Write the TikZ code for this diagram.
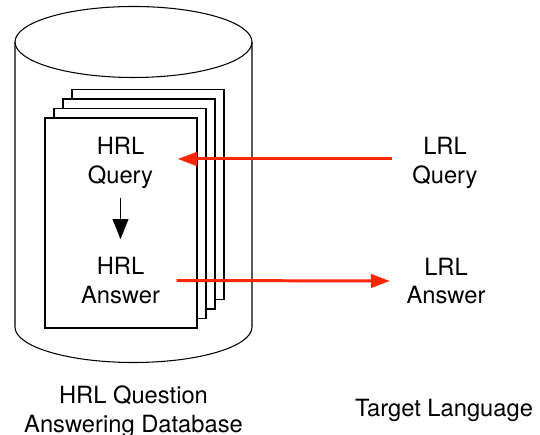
\documentclass[tikz,border=0pt]{standalone}
\usepackage{fontspec}
\setmainfont{TeX Gyre Heros}
\usepackage{tikz}
\usetikzlibrary{arrows.meta}
\definecolor{arrowred}{RGB}{255,38,0}

\begin{document}
\begin{tikzpicture}[x=0.02cm,y=0.02cm,
  every node/.style={align=center,font=\fontsize{13.5}{16.2}\selectfont},
  page/.style={draw,fill=white,line width=0.6pt},
  flow/.style={draw=arrowred,line width=1.7pt,-{Triangle[length=0.38cm,width=0.27cm]}}]
  \useasboundingbox (0,0) rectangle (540,435);
  \draw [line width=0.6pt] (15,393) -- (15,108) arc [start angle=180,end angle=360,x radius=118.5,y radius=35.5] -- (252,393);
  \draw [line width=0.6pt] (133.5,393) ellipse [x radius=118.5,y radius=35.5];
  \foreach \k in {3,2,1,0}
    \draw [page] (45+9*\k,107+9.5*\k) rectangle +(152,210);
  \node (hq) at (120.5,272) {HRL\\Query};
  \node (ha) at (120.5,154.5) {HRL\\Answer};
  \node (lq) at (445,272) {LRL\\Query};
  \node (la) at (446,154) {LRL\\Answer};
  \node (db) at (133.5,23.5) {HRL Question\\Answering Database};
  \node (tl) at (444,24.5) {Target Language};
  \draw [line width=1.1pt,-{Triangle[length=0.4cm,width=0.31cm]},shorten <=0.06cm,shorten >=0.24cm] (hq.south) -- (ha.north);
  \draw [flow] ([xshift=-0.29cm,yshift=0.08cm]lq.west) -- ([xshift=0.37cm,yshift=0.08cm]hq.east);
  \draw [flow] ([xshift=0.21cm]ha.east) -- ([xshift=-0.21cm]la.west);
\end{tikzpicture}
\end{document}
